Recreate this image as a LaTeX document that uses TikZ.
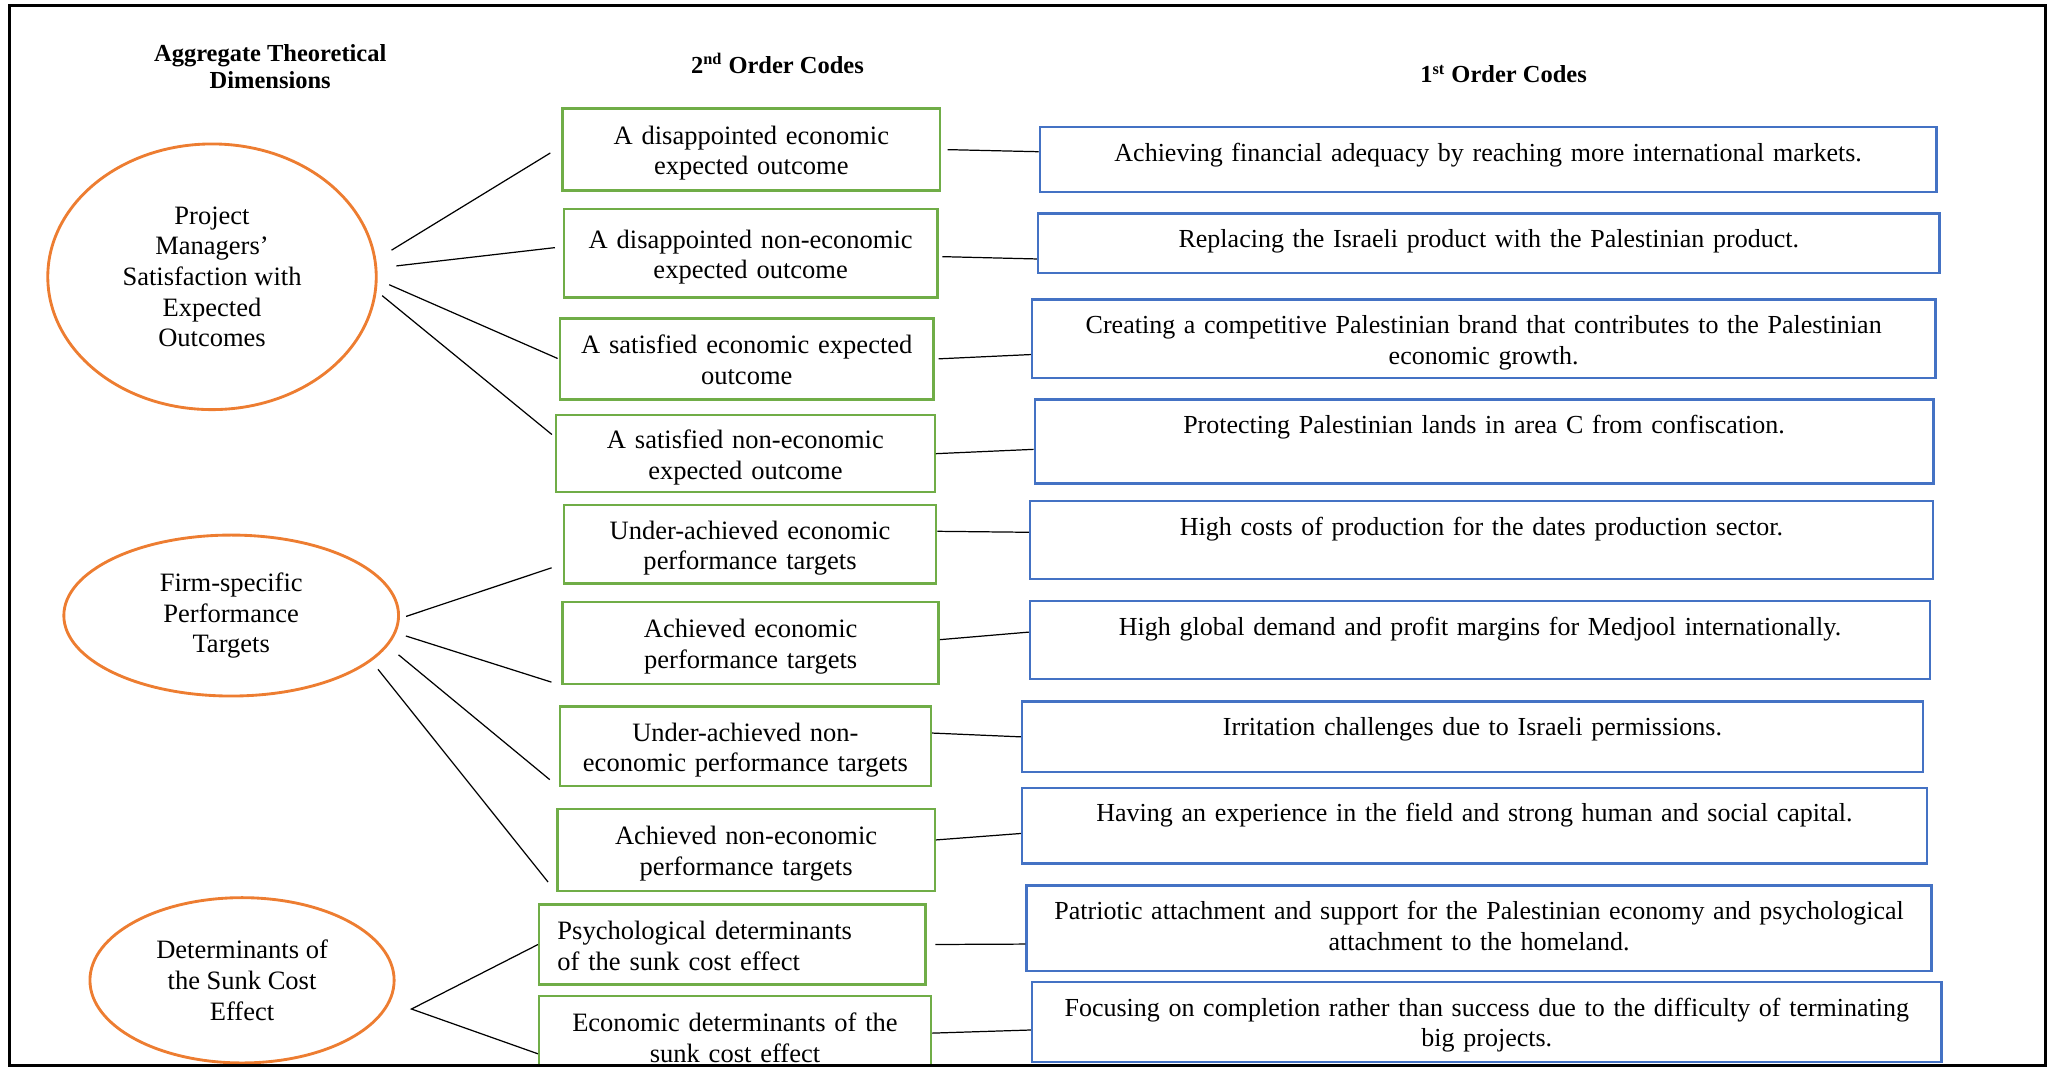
\documentclass[tikz,border=0pt]{standalone}
\usepackage{fontspec}
\setmainfont{Liberation Serif}
\usetikzlibrary{shapes.geometric,calc}
\newlength{\px}\setlength{\px}{0.64pt}
\definecolor{codegreen}{HTML}{70AD47}
\definecolor{codeblue}{HTML}{4472C4}
\definecolor{dimorange}{HTML}{ED7D31}

\begin{document}
\begin{tikzpicture}[x=\px, y=-\px, font=\fontsize{13}{15}\selectfont,
  hd/.style={font=\bfseries\fontsize{12}{13.4}\selectfont, align=center},
  dim/.style={ellipse, draw=dimorange, line width=1.4pt, align=center, inner sep=0pt},
  sec/.style={draw=codegreen, line width=1.2pt, align=center, text width=266\px,
    inner ysep=2pt, text height=12pt, text depth=17pt},
  fst/.style={draw=codeblue, line width=1.2pt, align=center, anchor=north, text width=672\px,
    font=\fontsize{12.75}{15}\selectfont, inner ysep=12.1\px, text height=9pt, text depth=#1},
  ln/.style={line width=0.6pt}]
  \useasboundingbox (0,0) rectangle (1568,817);
  \clip (0,0) rectangle (1568,817);
  % column headings
  \node[hd] (h3) at (207,51) {Aggregate Theoretical\\Dimensions};
  \node[hd] (h2) at (595.5,48.5) {2\textsuperscript{nd} Order Codes};
  \node[hd] (h1) at (1151.7,56.7) {1\textsuperscript{st} Order Codes};
  % aggregate theoretical dimensions
  \node[dim, minimum width=251.6\px, minimum height=203.5\px] (pms) at (162.4,212)
    {Project\\Managers'\\Satisfaction with\\Expected\\Outcomes};
  \node[dim, minimum width=256.4\px, minimum height=123.3\px] (fpt) at (177.1,471.5)
    {Firm-specific\\Performance\\Targets};
  \node[dim, minimum width=233\px, minimum height=126.6\px] (dsc) at (185.4,750.9)
    {Determinants of\\the Sunk Cost\\Effect};
  % 2nd order codes
  \node[sec, minimum width=289\px, minimum height=63\px] (g1) at (575.5,114.5) {A disappointed economic\\expected outcome};
  \node[sec, minimum width=286\px, minimum height=68\px] (g2) at (575,194) {A disappointed non-economic\\expected outcome};
  \node[sec, minimum width=286\px, minimum height=62\px] (g3) at (572,275) {A satisfied economic expected\\outcome};
  \node[sec, minimum width=290\px, minimum height=59\px] (g4) at (571,347.5) {A satisfied non-economic\\expected outcome};
  \node[sec, minimum width=285\px, minimum height=60\px] (g5) at (574.5,417) {Under-achieved economic\\performance targets};
  \node[sec, minimum width=288\px, minimum height=63\px] (g6) at (575,492.5) {Achieved economic\\performance targets};
  \node[sec, minimum width=284\px, minimum height=61\px] (g7) at (571,571.5) {Under-achieved non-\\economic performance targets};
  \node[sec, minimum width=289\px, minimum height=63\px] (g8) at (571.5,651) {Achieved non-economic\\performance targets};
  \node[sec, minimum width=296\px, minimum height=61\px, text width=268\px, align=left] (g9) at (561,723.5)
    {Psychological determinants\\of the sunk cost effect};
  \node[sec, minimum width=300\px, minimum height=62\px] (g10) at (563,794) {Economic determinants of the\\sunk cost effect};
  % 1st order codes
  \node[fst=11.3\px, minimum width=686.6\px] (b1) at (1139.9,96.5)
    {Achieving financial adequacy by reaching more international markets.};
  \node[fst=7.2\px, minimum width=690.5\px] (b2) at (1140.4,162.6)
    {Replacing the Israeli product with the Palestinian product.};
  \node[fst=22.2\px, minimum width=692\px] (b3) at (1136.5,228.3)
    {Creating a competitive Palestinian brand that contributes to the Palestinian\\economic growth.};
  \node[fst=26\px, minimum width=688.4\px] (b4) at (1136.8,305.1)
    {Protecting Palestinian lands in area C from confiscation.};
  \node[fst=21.4\px, minimum width=691.5\px] (b5) at (1134.8,383)
    {High costs of production for the dates production sector.};
  \node[fst=21.1\px, minimum width=689.4\px] (b6) at (1133.7,459.6)
    {High global demand and profit margins for Medjool internationally.};
  \node[fst=15.7\px, minimum width=690\px] (b7) at (1127.9,536.5)
    {Irritation challenges due to Israeli permissions.};
  \node[fst=19.6\px, minimum width=693.1\px] (b8) at (1129.4,602.5)
    {Having an experience in the field and strong human and social capital.};
  \node[fst=27.1\px, minimum width=693.1\px] (b9) at (1133,677.4)
    {Patriotic attachment and support for the Palestinian economy and psychological\\attachment to the homeland.};
  \node[fst=23.2\px, minimum width=696.7\px] (b10) at (1138.9,751.2)
    {Focusing on completion rather than success due to the difficulty of terminating\\big projects.};
  % dimensions to 2nd order codes
  \draw[ln, shorten <=13.7\px, shorten >=10\px] (pms.6.3) -- (g1.179);
  \draw[ln, shorten <=14.7\px, shorten >=6\px] (pms.3.1) -- (g2.178);
  \draw[ln, shorten <=9.7\px, shorten >=1\px] (pms.-1.4) -- (g3.west);
  \draw[ln, shorten <=5.4\px, shorten >=3\px] (pms.-5.2) -- (g4.175);
  \draw[ln, shorten <=5\px, shorten >=9\px] (fpt.-1) -- (g5.186);
  \draw[ln, shorten <=7.8\px, shorten >=8\px] (fpt.-6.6) -- (g6.south west);
  \draw[ln, shorten <=10.6\px, shorten >=9\px] (fpt.-11.2) -- (g7.south west);
  \draw[ln, shorten <=8\px, shorten >=10\px] (fpt.-18.2) -- (g8.south west);
  \coordinate (dv) at ([xshift=12.2\px, yshift=-22\px]dsc.east);
  \draw[ln] (g9.west) -- (dv) -- (g10.185);
  % 2nd order to 1st order codes
  \draw[ln, shorten <=5\px] (g1.-0.7) -- (b1.179.1);
  \draw[ln, shorten <=3\px] (g2.-1.8) -- (b2.182);
  \draw[ln, shorten <=3\px] (g3.0.6) -- (b3.182.4);
  \draw[ln] (g4.-0.6) -- (b4.181.7);
  \draw[ln] (g5.4) -- (b5.179.2);
  \draw[ln] (g6.1.6) -- (b6.179.5);
  \draw[ln] (g7.4) -- (b7.west);
  \draw[ln] (g8.3.7) -- (b8.181.6);
  \draw[ln, shorten <=6.5\px] (g9.east) -- (b9.182.4);
  \draw[ln] (g10.1.3) -- (b10.181.2);
  % outer frame
  \draw[line width=1.6pt] (7,4) rectangle (1567,816);
\end{tikzpicture}
\end{document}
